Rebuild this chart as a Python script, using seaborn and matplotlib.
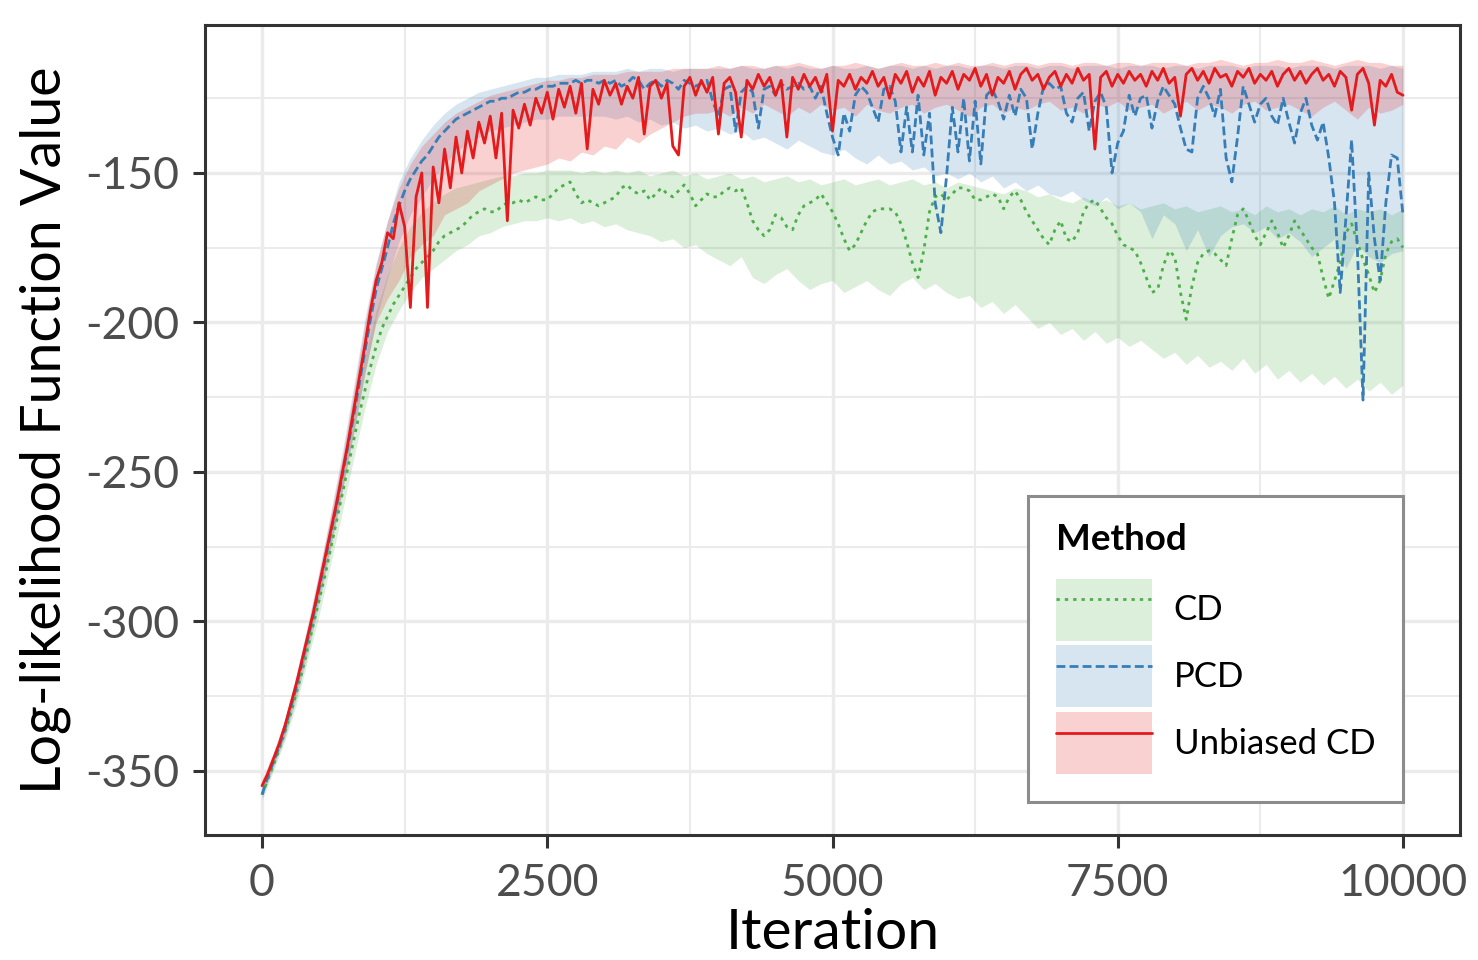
import numpy as np
import pandas as pd
import seaborn as sns
import matplotlib
matplotlib.use("Agg")
from matplotlib import pyplot as plt
from matplotlib.patches import Patch
from matplotlib.lines import Line2D

# Métodos e cores (paleta Set1)
metodos = ["CD", "PCD", "Unbiased CD"]
cores = {"CD": "#4DAF4A", "PCD": "#377EB8", "Unbiased CD": "#E41A1C"}
tracos = {"CD": (1.2, 1.8), "PCD": (3.2, 1.5), "Unbiased CD": ""}
espessura = 2.0

# Iterações das curvas (a cada 50) e das faixas (a cada 100)
iteracoes = np.arange(0, 10001, 50)
iter_faixa = np.arange(0, 10001, 100)

# Curvas
cd = [
    -358, -353, -348, -343, -337, -331, -324, -317, -309, -301,
    -293, -285, -276, -267, -258, -249, -240, -231, -223, -215,
    -208, -202, -198, -194, -191, -188, -185, -182, -180, -178,
    -176, -173, -171, -170, -169, -168, -166, -164, -163, -162,
    -163, -163, -161, -160, -160, -159, -160, -159, -158, -159,
    -159, -157, -155, -154, -153, -157, -160, -159, -160, -161,
    -160, -159, -158, -155, -154, -156, -157, -156, -159, -157,
    -155, -157, -158, -156, -154, -157, -161, -159, -157, -158,
    -158, -156, -155, -156, -155, -160, -166, -169, -171, -169,
    -164, -165, -168, -169, -164, -161, -160, -159, -157, -160,
    -163, -167, -172, -176, -174, -170, -166, -163, -162, -162,
    -162, -163, -167, -173, -180, -185, -176, -163, -158, -157,
    -159, -157, -155, -155, -156, -159, -159, -158, -157, -158,
    -162, -158, -156, -159, -163, -166, -169, -172, -174, -169,
    -166, -172, -173, -170, -163, -160, -159, -162, -165, -167,
    -171, -174, -175, -176, -180, -185, -190, -189, -181, -176,
    -178, -190, -199, -188, -180, -177, -176, -177, -179, -181,
    -172, -164, -162, -166, -171, -174, -170, -166, -170, -175,
    -171, -166, -169, -172, -175, -177, -185, -192, -186, -180,
    -170, -167, -173, -179, -184, -190, -186, -177, -173, -172,
    -175,
]
pcd = [
    -358, -352, -347, -342, -336, -329, -322, -314, -306, -298,
    -289, -280, -271, -262, -252, -242, -232, -221, -210, -199,
    -189, -182, -175, -167, -161, -156, -152, -149, -146, -144,
    -141, -138, -136, -134, -132, -131, -130, -129, -128, -127,
    -126, -126, -125, -125, -124, -123, -123, -122, -122, -121,
    -121, -121, -120, -120, -120, -119, -120, -119, -119, -120,
    -119, -120, -119, -121, -120, -118, -119, -122, -120, -119,
    -121, -119, -120, -122, -119, -120, -121, -120, -119, -126,
    -131, -122, -121, -136, -123, -121, -123, -135, -122, -121,
    -124, -120, -122, -121, -120, -122, -121, -125, -121, -130,
    -138, -144, -130, -136, -124, -121, -123, -128, -133, -122,
    -121, -126, -143, -128, -143, -124, -144, -130, -160, -170,
    -151, -128, -143, -125, -146, -126, -147, -124, -122, -126,
    -132, -124, -131, -122, -125, -142, -130, -121, -120, -122,
    -121, -130, -133, -125, -123, -136, -126, -123, -128, -150,
    -140, -136, -124, -131, -125, -124, -135, -126, -121, -124,
    -127, -135, -142, -143, -125, -121, -125, -131, -122, -145,
    -153, -138, -121, -127, -133, -127, -125, -131, -134, -125,
    -133, -140, -130, -125, -134, -139, -133, -145, -160, -190,
    -165, -139, -175, -226, -150, -172, -186, -160, -144, -145,
    -164,
]
ucd = [
    -355, -351, -346, -341, -335, -328, -321, -313, -305, -297,
    -288, -279, -270, -261, -251, -241, -230, -219, -208, -196,
    -186, -180, -170, -172, -160, -168, -195, -158, -150, -195,
    -148, -160, -142, -155, -138, -150, -136, -145, -133, -140,
    -131, -145, -130, -166, -129, -135, -127, -134, -125, -130,
    -123, -132, -122, -128, -121, -130, -120, -142, -122, -127,
    -119, -124, -120, -127, -121, -125, -118, -137, -121, -119,
    -125, -120, -141, -144, -121, -118, -124, -119, -123, -118,
    -137, -120, -118, -123, -138, -119, -122, -117, -121, -118,
    -124, -119, -138, -118, -122, -117, -121, -118, -123, -117,
    -136, -119, -121, -117, -122, -118, -120, -116, -121, -118,
    -125, -117, -120, -116, -123, -118, -121, -116, -124, -118,
    -120, -116, -122, -117, -119, -115, -121, -117, -124, -118,
    -120, -116, -122, -117, -115, -119, -117, -122, -118, -116,
    -121, -117, -120, -115, -119, -117, -142, -118, -116, -121,
    -117, -120, -116, -119, -117, -121, -116, -119, -115, -120,
    -118, -131, -117, -115, -119, -116, -120, -115, -118, -117,
    -121, -116, -118, -115, -120, -117, -119, -116, -121, -117,
    -115, -119, -116, -120, -117, -115, -119, -117, -121, -116,
    -118, -129, -117, -115, -120, -134, -119, -121, -117, -123,
    -124,
]

# Faixas (limite inferior e superior)
cd_inf = [
    -360, -350, -340, -328, -313, -298, -281, -264, -246, -229,
    -214, -203, -196, -190, -185, -182, -179, -176, -174, -171,
    -170, -168, -167, -166, -166, -165, -166, -165, -167, -166,
    -168, -167, -169, -170, -171, -173, -172, -175, -174, -177,
    -179, -181, -178, -185, -187, -184, -182, -186, -189, -187,
    -186, -190, -188, -186, -189, -191, -187, -185, -189, -187,
    -190, -192, -191, -195, -193, -197, -194, -198, -202, -200,
    -204, -202, -206, -203, -207, -205, -208, -206, -209, -212,
    -210, -214, -211, -215, -213, -216, -212, -217, -214, -219,
    -216, -220, -217, -221, -218, -222, -219, -223, -220, -224,
    -221,
]
cd_sup = [
    -355, -345, -334, -320, -304, -288, -270, -251, -231, -212,
    -196, -184, -175, -168, -163, -160, -157, -155, -154, -153,
    -152, -151, -151, -150, -150, -149, -149, -149, -150, -149,
    -150, -149, -150, -149, -151, -150, -149, -151, -150, -152,
    -151, -150, -152, -151, -153, -152, -151, -153, -152, -154,
    -153, -152, -154, -153, -152, -154, -153, -152, -154, -153,
    -155, -153, -154, -155, -156, -157, -155, -156, -158, -157,
    -159, -160, -158, -160, -159, -161, -160, -162, -161, -160,
    -162, -161, -163, -162, -161, -163, -162, -164, -161, -163,
    -162, -164, -162, -163, -161, -164, -162, -163, -162, -164,
    -162,
]
pcd_inf = [
    -359, -349, -339, -326, -311, -294, -276, -257, -238, -218,
    -199, -185, -173, -164, -158, -152, -147, -143, -140, -138,
    -136, -135, -134, -133, -132, -132, -131, -131, -131, -131,
    -131, -132, -131, -133, -132, -134, -133, -135, -134, -136,
    -135, -137, -136, -139, -138, -140, -142, -139, -141, -143,
    -144, -142, -145, -147, -144, -147, -146, -149, -148, -151,
    -150, -152, -150, -153, -151, -155, -153, -156, -154, -157,
    -158, -156, -159, -161, -158, -162, -160, -163, -172, -164,
    -167, -176, -169, -178, -171, -168, -167, -170, -168, -172,
    -170, -173, -178, -175, -172, -182, -174, -178, -180, -177,
    -176,
]
pcd_sup = [
    -354, -344, -333, -318, -301, -283, -264, -244, -222, -199,
    -180, -166, -153, -145, -139, -134, -130, -127, -125, -123,
    -122, -121, -120, -119, -118, -118, -117, -117, -117, -116,
    -116, -116, -115, -116, -115, -115, -116, -115, -115, -115,
    -115, -115, -114, -115, -115, -114, -115, -114, -115, -115,
    -114, -115, -115, -114, -115, -114, -114, -115, -114, -115,
    -114, -114, -115, -114, -114, -115, -114, -114, -115, -114,
    -114, -115, -114, -114, -114, -115, -114, -114, -114, -115,
    -114, -114, -115, -114, -114, -114, -115, -114, -114, -114,
    -115, -114, -114, -114, -115, -114, -114, -114, -115, -114,
    -115,
]
ucd_inf = [
    -358, -348, -338, -324, -309, -292, -275, -257, -237, -217,
    -200, -192, -186, -178, -174, -171, -164, -162, -160, -156,
    -154, -152, -150, -149, -148, -147, -145, -146, -143, -144,
    -141, -142, -138, -140, -137, -135, -133, -131, -130, -130,
    -129, -131, -128, -130, -127, -129, -131, -128, -130, -127,
    -129, -128, -131, -127, -129, -130, -128, -127, -130, -128,
    -127, -129, -131, -128, -127, -130, -128, -129, -127, -126,
    -129, -128, -130, -127, -128, -126, -129, -128, -127, -130,
    -128, -126, -129, -127, -128, -130, -127, -126, -129, -128,
    -127, -129, -131, -128, -126, -129, -132, -128, -130, -129,
    -127,
]
ucd_sup = [
    -353, -344, -333, -318, -302, -284, -265, -246, -224, -201,
    -181, -166, -155, -147, -141, -137, -133, -130, -128, -126,
    -124, -123, -122, -121, -120, -119, -119, -118, -118, -117,
    -117, -117, -116, -116, -116, -116, -115, -115, -115, -115,
    -114, -115, -114, -114, -115, -114, -114, -113, -114, -115,
    -114, -114, -113, -114, -115, -114, -113, -114, -114, -113,
    -114, -113, -114, -114, -113, -114, -113, -113, -114, -113,
    -113, -114, -113, -113, -114, -113, -113, -114, -113, -113,
    -113, -114, -113, -113, -112, -113, -114, -113, -113, -112,
    -113, -113, -112, -113, -114, -113, -112, -113, -113, -114,
    -114,
]

# Eixos
xticks = [0, 2500, 5000, 7500, 10000]
xtick_labels = ["0", "2500", "5000", "7500", "10000"]
yticks = [-350, -300, -250, -200, -150]
ytick_labels = ["-350", "-300", "-250", "-200", "-150"]

curvas = {"CD": cd, "PCD": pcd, "Unbiased CD": ucd}
faixas = {"CD": (cd_inf, cd_sup), "PCD": (pcd_inf, pcd_sup), "Unbiased CD": (ucd_inf, ucd_sup)}

df = pd.concat(
    [pd.DataFrame({"Iteration": iteracoes, "Valor": curvas[m], "Method": m}) for m in metodos],
    ignore_index=True,
)

sns.set_theme(style="white")
plt.rcParams["font.family"] = ["Lato", "DejaVu Sans"]
plt.rcParams["axes.unicode_minus"] = False

fig = plt.figure(figsize=(14.78, 9.6), dpi=100)
ax = fig.add_axes([205 / 1478, 1 - 835 / 960, 1255 / 1478, 810 / 960])

# Faixas de confiança
for m in metodos:
    inf, sup = faixas[m]
    ax.fill_between(iter_faixa, inf, sup, color=cores[m], alpha=0.2, linewidth=0)

# Curvas
sns.lineplot(data=df, x="Iteration", y="Valor", hue="Method", style="Method",
             hue_order=metodos, style_order=metodos, palette=cores, dashes=tracos,
             estimator=None, sort=False, linewidth=espessura, legend=False, ax=ax)

# Grade estilo theme_bw
ax.set_xlim(-500, 10500)
ax.set_ylim(-371.5, -100.5)
ax.set_xticks(xticks)
ax.set_xticklabels(xtick_labels)
ax.set_yticks(yticks)
ax.set_yticklabels(ytick_labels)
ax.set_xticks([1250, 3750, 6250, 8750], minor=True)
ax.set_yticks([-325, -275, -225, -175, -125], minor=True)
ax.grid(which="major", color="#EBEBEB", linewidth=2.4)
ax.grid(which="minor", color="#EBEBEB", linewidth=1.5)
ax.set_axisbelow(True)
for s in ax.spines.values():
    s.set_color("#333333")
    s.set_linewidth(2.2)
ax.tick_params(which="major", direction="out", length=9, width=2.2, color="#333333",
               labelsize=32, labelcolor="#4D4D4D", bottom=True, left=True)
ax.tick_params(axis="y", which="major", pad=9.5)
ax.tick_params(axis="x", which="major", pad=11.5)
ax.tick_params(which="minor", length=0)

ax.set_xlabel("Iteration", fontsize=41, color="black")
ax.set_ylabel("Log-likelihood Function Value", fontsize=40, color="black")
ax.xaxis.set_label_coords(0.5, -0.09)
ax.yaxis.set_label_coords(-0.107, 0.5)

# Legenda
handles = []
for m in metodos:
    if tracos[m]:
        linha = Line2D([0], [0], color=cores[m], lw=espessura, dashes=tracos[m])
    else:
        linha = Line2D([0], [0], color=cores[m], lw=espessura)
    handles.append((Patch(facecolor=cores[m], alpha=0.2, edgecolor="none"), linha))
leg = ax.legend(handles, metodos, title="Method", loc="lower right",
                bbox_to_anchor=(1403 / 1478, 1 - 802 / 960), bbox_transform=fig.transFigure,
                borderaxespad=0, fontsize=25, labelcolor="black",
                title_fontproperties={"weight": "bold", "size": 26.5},
                handlelength=2.77, handleheight=2.37, labelspacing=0.14,
                handletextpad=0.63, borderpad=0.8, frameon=True, fancybox=False,
                edgecolor="#8C8C8C", framealpha=1, alignment="left")
leg.get_title().set_color("black")
leg.get_frame().set_linewidth(2.2)
leg._legend_box.sep = 16

plt.savefig("out.png", dpi=100)
plt.close()
